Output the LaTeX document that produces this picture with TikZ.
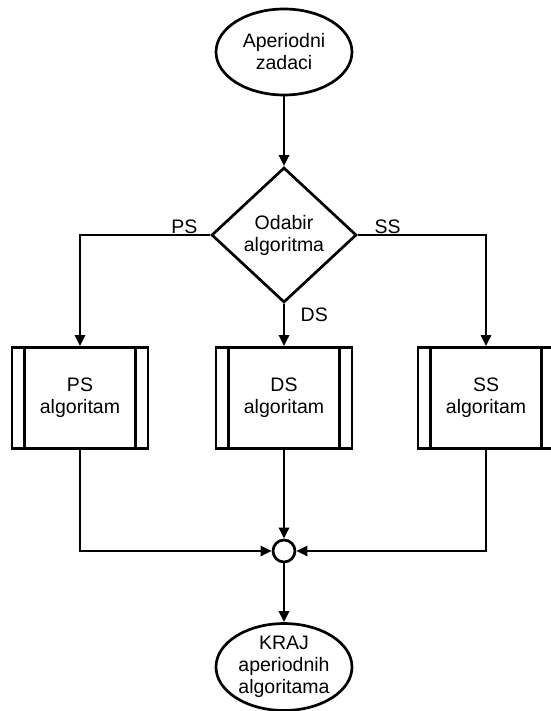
\documentclass[tikz,border=0pt]{standalone}
\usepackage{fontspec}
\setmainfont{Liberation Sans}
\usetikzlibrary{shapes.geometric, arrows.meta, positioning}

\begin{document}
\begin{tikzpicture}[x=1pt, y=-1pt, line width=2.7pt,
    txt/.style={font=\fontsize{19.5}{22}\selectfont, align=center},
    term/.style={txt, draw, ellipse, minimum width=136, minimum height=86, inner sep=0},
    dec/.style={txt, draw, diamond, minimum width=145, minimum height=135, inner sep=1},
    proc/.style={txt, draw, minimum width=136, minimum height=101},
    junc/.style={draw, circle, minimum size=22, inner sep=0},
    >={Triangle[length=11pt, width=10pt]}]
  \useasboundingbox (0,0) rectangle (550,711);

  \node[term] (start) at (284,52) {Aperiodni\\zadaci};
  \node[dec] (odabir) at (284,235) {Odabir\\algoritma};
  \node[proc] (ps) at (80,398) {PS\\algoritam};
  \node[proc] (ds) at (284,398) {DS\\algoritam};
  \node[proc] (ss) at (486,398) {SS\\algoritam};
  \node[junc] (junc) at (284,551) {};
  \node[term] (kraj) at (284,667) {KRAJ\\aperiodnih\\algoritama};

  % double side lines of the process boxes
  \foreach \b in {ps, ds, ss}
  \draw ([xshift=14]\b.north west) -- ([xshift=14]\b.south west)
        ([xshift=-14]\b.north east) -- ([xshift=-14]\b.south east);

  \draw[->] (start) -- (odabir);
  \draw[->] (odabir.west) node[txt, above left=3 and 8] {PS} -| (ps);
  \draw[->] (odabir.east) node[txt, above right=3 and 12] {SS} -| (ss);
  \draw[->] (odabir.south) node[txt, below right=1 and 12] {DS} -- (ds);

  \draw[->] (ps) |- (junc);
  \draw[->] (ss) |- (junc);
  \draw[->] (ds) -- (junc);
  \draw[->] (junc) -- (kraj);
\end{tikzpicture}
\end{document}
